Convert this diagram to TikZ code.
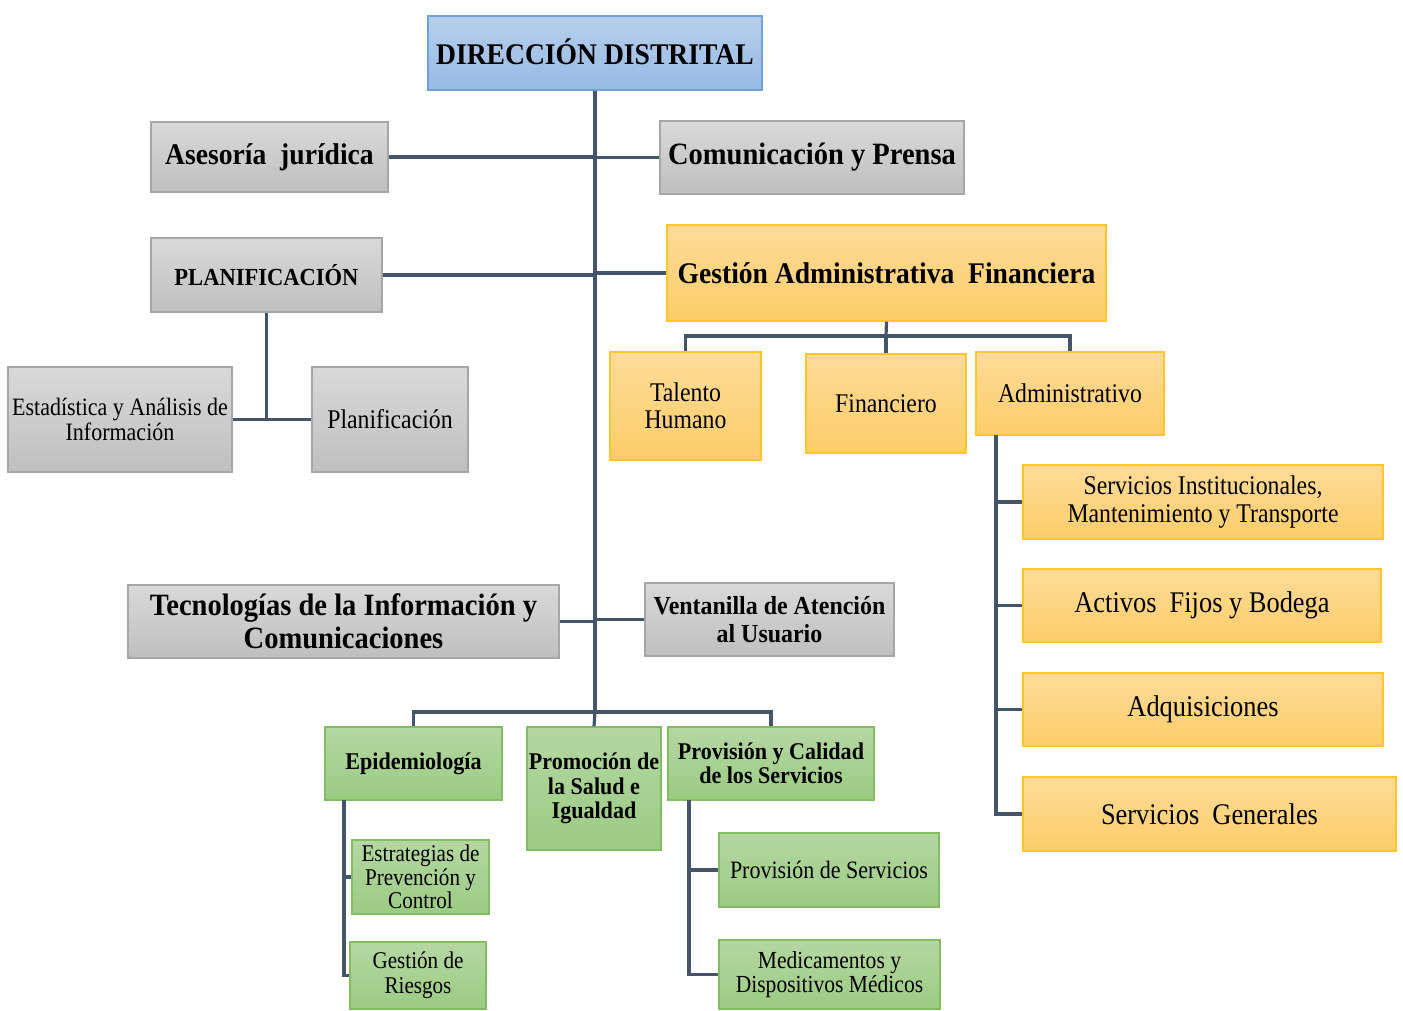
\documentclass[tikz,border=0pt]{standalone}
\usepackage{fontspec}
\setmainfont{Liberation Serif}[UprightFeatures={FakeStretch=0.88},BoldFeatures={FakeStretch=0.92}]
\definecolor{ln}{HTML}{44546A}
\definecolor{gtop}{HTML}{D9D9D9}
\definecolor{gbot}{HTML}{BFBFBF}
\definecolor{gbrd}{HTML}{A6A6A6}
\definecolor{otop}{HTML}{FEDB9A}
\definecolor{obot}{HTML}{FCCD68}
\definecolor{obrd}{HTML}{FFC629}
\definecolor{ntop}{HTML}{B5D7A3}
\definecolor{nbot}{HTML}{9BCB82}
\definecolor{nbrd}{HTML}{82BD62}
\definecolor{btop}{HTML}{B7CFEB}
\definecolor{bbot}{HTML}{97BAE5}
\definecolor{bbrd}{HTML}{6FA0DC}
\tikzset{
  box/.style={draw, line width=1.2pt, inner sep=0pt, align=center, text=black},
  graybox/.style={box, draw=gbrd, top color=gtop, bottom color=gbot},
  orbox/.style={box, draw=obrd, top color=otop, bottom color=obot},
  grbox/.style={box, draw=nbrd, top color=ntop, bottom color=nbot},
  blbox/.style={box, draw=bbrd, top color=btop, bottom color=bbot},
  conn/.style={draw=ln, line width=3.2pt},
  fb/.style 2 args={font=\fontsize{#1}{#2}\selectfont\bfseries},
  fr/.style 2 args={font=\fontsize{#1}{#2}\selectfont},
}
\newcommand{\bx}[7]{\node[#2, minimum width={(#5-#3)*1pt}, minimum height={(#6-#4)*1pt}] (#1) at ({(#3+#5)/2},{(#4+#6)/2}) {#7};}
\begin{document}
\begin{tikzpicture}[x=1pt,y=-1pt]
\useasboundingbox (0,0) rectangle (1403,1010);
\coordinate (bj) at (595,712);
\coordinate (ga) at (886,336);
\bx{dir}{blbox,fb={30}{32}}{428}{16}{762}{90}{\raisebox{3pt}{DIRECCIÓN DISTRITAL}}
\bx{ase}{graybox,fb={30}{32}}{151}{122}{388}{192}{Asesoría\ \ jurídica}
\bx{com}{graybox,fb={31}{33}}{660}{121}{964}{194}{Comunicación y Prensa}
\bx{plan}{graybox,fb={24.5}{26}}{151}{238}{382}{312}{PLANIFICACIÓN}
\bx{gaf}{orbox,fb={30}{32}}{667}{225}{1106}{321}{Gestión Administrativa\ \ Financiera}
\bx{tal}{orbox,fr={27}{27.5}}{610}{352}{761}{460}{Talento\\Humano}
\bx{fin}{orbox,fr={27}{27.5}}{806}{354}{966}{453}{Financiero}
\bx{adm}{orbox,fr={27}{27.5}}{976}{352}{1164}{435}{Administrativo}
\bx{est}{graybox,fr={25}{25}}{8}{367}{232}{472}{Estadística y Análisis de\\Información}
\bx{pla}{graybox,fr={27}{27.5}}{312}{367}{468}{472}{Planificación}
\bx{sin}{orbox,fr={27}{27.5}}{1023}{465}{1383}{539}{Servicios Institucionales,\\Mantenimiento y Transporte}
\bx{afb}{orbox,fr={30}{31}}{1023}{569}{1381}{642}{Activos\ \ Fijos y Bodega}
\bx{adq}{orbox,fr={30}{31}}{1023}{673}{1383}{746}{Adquisiciones}
\bx{sgen}{orbox,fr={30}{31}}{1023}{777}{1396}{851}{Servicios\ \ Generales}
\bx{tic}{graybox,fb={31}{32.5}}{128}{585}{559}{658}{Tecnologías de la Información y\\Comunicaciones}
\bx{ven}{graybox,fb={26}{27.5}}{645}{583}{894}{656}{Ventanilla de Atención\\al Usuario}
\bx{epi}{grbox,fb={24}{25}}{325}{727}{502}{800}{Epidemiología}
\bx{prom}{grbox,fb={24}{24.5}}{527}{727}{661}{850}{Promoción de\\la Salud e\\Igualdad}
\bx{prov}{grbox,fb={24}{24.5}}{668}{727}{874}{800}{Provisión y Calidad\\de los Servicios}
\bx{estr}{grbox,fr={24}{23.5}}{352}{840}{489}{914}{Estrategias de\\Prevención y\\Control}
\bx{gr}{grbox,fr={24}{25}}{350}{942}{486}{1009}{Gestión de\\Riesgos}
\bx{ps}{grbox,fr={25}{25}}{719}{833}{939}{907}{Provisión de Servicios}
\bx{med}{grbox,fr={24.5}{24.5}}{719}{940}{940}{1009}{Medicamentos y\\Dispositivos Médicos}
\coordinate (admv) at (996,435);
\coordinate (epiv) at (344,800);
\coordinate (provv) at (689,800);
\draw[conn] (dir.south) -- (bj);
\draw[conn] (ase.east) -- (ase.east -| bj);
\draw[conn] (com.west) -- (com.west -| bj);
\draw[conn] (plan.east) -- (plan.east -| bj);
\draw[conn] (gaf.west) -- (gaf.west -| bj);
\draw[conn] (tic.east) -- (tic.east -| bj);
\draw[conn] (ven.west) -- (ven.west -| bj);
\draw[conn] (epi.north) |- (bj) -| (prov.north);
\draw[conn] (bj) -- (prom.north);
\draw[conn] (gaf.south) -- (ga);
\draw[conn] (tal.north) |- (ga) -| (adm.north);
\draw[conn] (ga) -- (fin.north);
\draw[conn] (admv) |- (sgen.west);
\draw[conn] (admv |- sin.west) -- (sin.west);
\draw[conn] (admv |- afb.west) -- (afb.west);
\draw[conn] (admv |- adq.west) -- (adq.west);
\draw[conn] (plan.south) |- (est.east);
\draw[conn] (plan.south) |- (pla.west);
\draw[conn] (epiv) |- (gr.west);
\draw[conn] (epiv |- estr.west) -- (estr.west);
\draw[conn] (provv) |- (med.west);
\draw[conn] (provv |- ps.west) -- (ps.west);
\end{tikzpicture}
\end{document}
